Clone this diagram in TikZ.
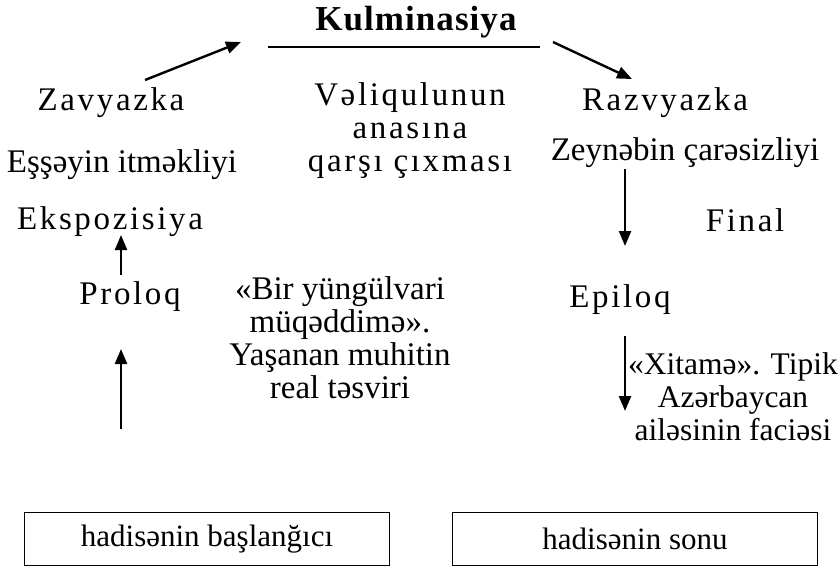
\documentclass[tikz,border=0pt]{standalone}
\usepackage{fontspec}
\setmainfont{Liberation Serif}
\usetikzlibrary{arrows.meta}
\begin{document}
\begin{tikzpicture}[x=1pt,y=-1pt,
  txt/.style={inner sep=0pt,align=center,font=\fontsize{33}{33}\selectfont},
  wide/.style={txt,font=\fontsize{33}{33}\selectfont\addfontfeatures{LetterSpace=8}},
  narrow/.style={txt,font=\fontsize{33}{33}\selectfont},
  arr/.style={line width=2.4pt,-{Triangle[length=15pt,width=12pt]}},
  box/.style={draw,line width=1.4pt,minimum width=365pt,minimum height=53pt,inner sep=0pt,font=\fontsize{31}{33}\selectfont}]
\useasboundingbox (0,0) rectangle (840,566);
\node[txt,font=\fontsize{35}{35}\selectfont\bfseries\addfontfeatures{LetterSpace=3}] (kul) at (416,22) {Kulminasiya};
\coordinate (l1) at (268,47);
\coordinate (l2) at (540,47);
\draw[line width=2pt] (l1) -- (l2);
\coordinate (a1s) at (145,80);
\coordinate (a1e) at (241,42);
\draw[arr] (a1s) -- (a1e);
\coordinate (a2s) at (553,42);
\coordinate (a2e) at (632,79);
\draw[arr] (a2s) -- (a2e);
\node[wide] (zav) at (111,103) {Zavyazka};
\node[wide] (vel) at (410,131) {Vəliqulunun\\anasına\\qarşı çıxması};
\node[wide] (raz) at (665,103) {Razvyazka};
\node[narrow] (ess) at (122,165) {Eşşəyin itməkliyi};
\node[narrow] (zey) at (685,153) {Zeynəbin çarəsizliyi};
\node[wide] (eks) at (110,222) {Ekspozisiya};
\node[wide] (fin) at (745,220) {Final};
\node[wide] (pro) at (130,297) {Proloq};
\node[wide] (epi) at (620,300) {Epiloq};
\node[narrow] (bir) at (340,338) {«Bir yüngülvari\\müqəddimə».\\Yaşanan muhitin\\real təsviri};
\node[txt,font=\fontsize{31.5}{33}\selectfont] (xit) at (733,397) {«Xitamə». Tipik\\Azərbaycan\\ailəsinin faciəsi};
\coordinate (u1s) at (121,275);
\coordinate (u1e) at (121,235);
\draw[arr] (u1s) -- (u1e);
\coordinate (u2s) at (121,429);
\coordinate (u2e) at (121,349);
\draw[arr] (u2s) -- (u2e);
\coordinate (d1s) at (625,169);
\coordinate (d1e) at (625,246);
\draw[arr] (d1s) -- (d1e);
\coordinate (d2s) at (625,336);
\coordinate (d2e) at (625,411);
\draw[arr] (d2s) -- (d2e);
\node[box] (b1) at (207,539) {hadisənin başlanğıcı};
\node[box] (b2) at (635,539) {hadisənin sonu};
\end{tikzpicture}
\end{document}
